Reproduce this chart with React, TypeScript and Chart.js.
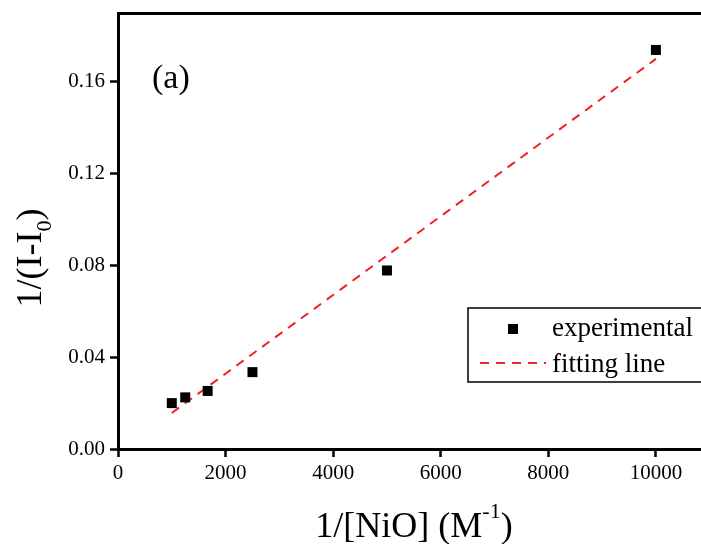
import React, { useEffect, useRef } from "react";
import { Chart, registerables } from "chart.js";

Chart.register(...registerables);

const concX = [1000, 1250, 1667, 2500, 5000, 10000];
const experimentalY = [0.02, 0.0225, 0.0253, 0.0335, 0.0778, 0.1739];
const fitX = [1000, 10000];
const fitY = [0.0157, 0.17];
const xTickValues = [0, 2000, 4000, 6000, 8000, 10000];
const yTickValues = [0, 0.04, 0.08, 0.12, 0.16];

const SERIF = "'Liberation Serif', 'Times New Roman', serif";
const FIT_RED = "rgb(238, 34, 34)";

type Seg = { text: string; scale: number; dy: number };

function drawRich(ctx: CanvasRenderingContext2D, segs: Seg[], size: number, x: number, y: number, align: "left" | "center") {
  let total = 0;
  const widths = segs.map((s) => {
    ctx.font = `${Math.round(size * s.scale)}px ${SERIF}`;
    const w = ctx.measureText(s.text).width;
    total += w;
    return w;
  });
  let cx = align === "center" ? x - total / 2 : x;
  segs.forEach((s, i) => {
    ctx.font = `${Math.round(size * s.scale)}px ${SERIF}`;
    ctx.fillText(s.text, cx, y + s.dy);
    cx += widths[i];
  });
}

const align3 = (p: number) => Math.round(p - 1.5) + 1.5;

const decor = {
  id: "decor",
  afterDraw(chart: any) {
    const { ctx, chartArea } = chart;
    ctx.save();
    ctx.fillStyle = "#000";
    ctx.strokeStyle = "#000";
    // top frame line and bottom axis continuation to the image edge
    ctx.lineWidth = 3;
    ctx.lineCap = "butt";
    const lx0 = align3(chartArea.left) - 1.5;
    ctx.beginPath();
    ctx.moveTo(lx0, align3(chartArea.top));
    ctx.lineTo(chart.width + 5, align3(chartArea.top));
    ctx.moveTo(chartArea.right - 4, align3(chartArea.bottom));
    ctx.lineTo(chart.width + 5, align3(chartArea.bottom));
    ctx.stroke();

    ctx.textBaseline = "alphabetic";
    // panel label
    ctx.font = `34px ${SERIF}`;
    ctx.textAlign = "left";
    ctx.fillText("(a)", 152, 88);

    // x title
    drawRich(
      ctx,
      [
        { text: "1/[NiO] (M", scale: 1, dy: 0 },
        { text: "-1", scale: 0.6, dy: -19 },
        { text: ")", scale: 1, dy: 0 },
      ],
      36,
      414,
      537,
      "center"
    );

    // y title
    ctx.save();
    ctx.translate(41, 258);
    ctx.rotate(-Math.PI / 2);
    drawRich(
      ctx,
      [
        { text: "1/(I-I", scale: 1, dy: 0 },
        { text: "0", scale: 0.6, dy: 10 },
        { text: ")", scale: 1, dy: 0 },
      ],
      36,
      0,
      0,
      "center"
    );
    ctx.restore();

    // legend
    const lx = 468, ly = 308, lh = 74;
    ctx.lineWidth = 1.5;
    ctx.strokeRect(lx, ly, chart.width + 10 - lx, lh);
    ctx.fillRect(508, 324, 10, 10);
    ctx.font = `27px ${SERIF}`;
    ctx.fillText("experimental", 552, 336);
    ctx.fillText("fitting line", 552, 372);
    ctx.strokeStyle = FIT_RED;
    ctx.lineWidth = 2;
    ctx.setLineDash([9, 7]);
    ctx.beginPath();
    ctx.moveTo(480, 363);
    ctx.lineTo(546, 363);
    ctx.stroke();
    ctx.restore();
  },
};

export default function App() {
  const ref = useRef<HTMLCanvasElement | null>(null);

  useEffect(() => {
    if (!ref.current) return;
    const chart = new Chart(ref.current, {
      type: "scatter",
      data: {
        datasets: [
          {
            label: "experimental",
            data: concX.map((x, i) => ({ x, y: experimentalY[i] })),
            pointStyle: "rect",
            pointRadius: 7.07,
            pointHoverRadius: 7.07,
            backgroundColor: "#000",
            borderColor: "#000",
            borderWidth: 0,
            showLine: false,
            order: 1,
          },
          {
            label: "fitting line",
            data: fitX.map((x, i) => ({ x, y: fitY[i] })),
            borderColor: FIT_RED,
            backgroundColor: FIT_RED,
            borderWidth: 2,
            borderDash: [9, 7],
            pointRadius: 0,
            pointHoverRadius: 0,
            showLine: true,
            fill: false,
            order: 2,
          },
        ],
      },
      options: {
        responsive: false,
        animation: false,
        devicePixelRatio: 1,
        layout: { padding: { top: 13, right: 0, left: 0, bottom: 0 } },
        plugins: { legend: { display: false }, tooltip: { enabled: false } },
        scales: {
          x: {
            type: "linear",
            min: 0,
            max: 10707,
            afterBuildTicks: (s: any) => {
              s.ticks = xTickValues.map((value) => ({ value }));
            },
            afterFit: (s: any) => {
              s.height = 95;
              s.paddingLeft = 0;
              s.paddingRight = 0;
            },
            ticks: {
              autoSkip: false,
              color: "#000",
              padding: 4,
              maxRotation: 0,
              minRotation: 0,
              font: { family: SERIF, size: 21 },
              callback: (v: any) => String(v),
            },
            grid: { drawOnChartArea: false, drawTicks: true, tickLength: 8, tickWidth: 2.5, tickColor: "#000", color: "#000" },
            border: { display: true, color: "#000", width: 3 },
          },
          y: {
            type: "linear",
            min: 0,
            max: 0.19,
            afterBuildTicks: (s: any) => {
              s.ticks = yTickValues.map((value) => ({ value }));
            },
            afterFit: (s: any) => {
              s.width = 118;
              s.paddingTop = 0;
              s.paddingBottom = 0;
            },
            ticks: {
              autoSkip: false,
              color: "#000",
              padding: 5,
              font: { family: SERIF, size: 21 },
              callback: (v: any) => Number(v).toFixed(2),
            },
            grid: { drawOnChartArea: false, drawTicks: true, tickLength: 8, tickWidth: 2.5, tickColor: "#000", color: "#000" },
            border: { display: true, color: "#000", width: 3 },
          },
        },
      },
      plugins: [decor],
    });
    return () => chart.destroy();
  }, []);

  return (
    <canvas
      ref={ref}
      width={701}
      height={544}
      style={{ position: "absolute", left: 0, top: 0, width: 701, height: 544 }}
    />
  );
}
